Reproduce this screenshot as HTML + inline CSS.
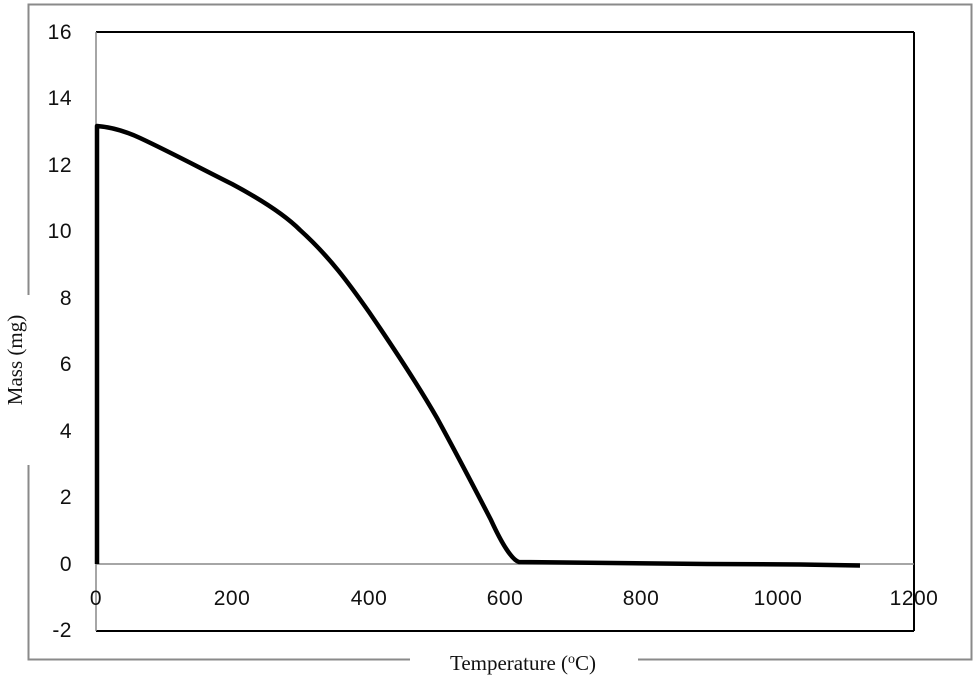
<!DOCTYPE html>
<html><head><meta charset="utf-8"><style>
html,body{margin:0;padding:0;background:#fff;}
svg{display:block;}
</style></head><body>
<svg width="975" height="679" viewBox="0 0 975 679" xmlns="http://www.w3.org/2000/svg">
<rect x="28.5" y="4.5" width="943" height="655" fill="none" stroke="#8a8a8a" stroke-width="2"/>
<rect x="410" y="648" width="228" height="26" fill="#fff"/>
<rect x="16" y="295" width="26" height="170" fill="#fff"/>
<text x="523" y="670" font-family="Liberation Serif, serif" font-size="21" text-anchor="middle" fill="#111">Temperature (<tspan font-size="14" dy="-7">o</tspan><tspan dy="7">C)</tspan></text>
<text transform="translate(22,360) rotate(-90)" font-family="Liberation Serif, serif" font-size="21" text-anchor="middle" fill="#111">Mass (mg)</text>
<line x1="96" y1="32" x2="914" y2="32" stroke="#000" stroke-width="2"/>
<line x1="914" y1="32" x2="914" y2="631" stroke="#000" stroke-width="2"/>
<line x1="96" y1="631" x2="914" y2="631" stroke="#000" stroke-width="2"/>
<line x1="96" y1="32" x2="96" y2="631" stroke="#888" stroke-width="1.5"/>
<line x1="96" y1="564" x2="914" y2="564" stroke="#888" stroke-width="1.5"/>
<g font-family="Liberation Sans, sans-serif" font-size="21" fill="#111" text-anchor="end" letter-spacing="0.5">
<text x="72" y="39">16</text><text x="72" y="105">14</text><text x="72" y="172">12</text>
<text x="72" y="238">10</text><text x="72" y="305">8</text><text x="72" y="371">6</text>
<text x="72" y="438">4</text><text x="72" y="504">2</text><text x="72" y="571">0</text>
<text x="72" y="637">-2</text>
</g>
<g font-family="Liberation Sans, sans-serif" font-size="21" fill="#111" text-anchor="middle" letter-spacing="0.5">
<text x="96" y="605">0</text><text x="232" y="605">200</text><text x="369" y="605">400</text>
<text x="505" y="605">600</text><text x="641" y="605">800</text><text x="778" y="605">1000</text>
<text x="914" y="605">1200</text>
</g>
<path d="M97,564 L97,126 C110,127 125,131 140,138 C170,152 200,168 232,184 C260,199 285,215 300,230 C330,257 350,285 369,312 C395,350 418,385 437,418 C460,460 478,495 491,520 C502,544 512,560 519,562 C560,563 700,564 800,564.5 L860,565.5" fill="none" stroke="#000" stroke-width="4.5" stroke-linejoin="round"/>
</svg>
</body></html>
